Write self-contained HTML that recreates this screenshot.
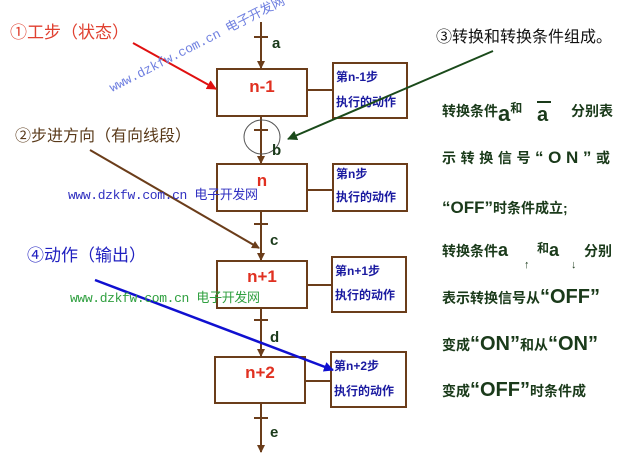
<!DOCTYPE html>
<html><head><meta charset="utf-8"><style>
body{margin:0;background:#fff;width:640px;height:461px;overflow:hidden}
svg text{font-family:"Liberation Sans","Noto Sans CJK SC",sans-serif}
svg text.wm{font-family:"Liberation Mono","Noto Sans CJK SC",monospace}
</style></head><body>
<svg width="640" height="461" viewBox="0 0 640 461" xmlns="http://www.w3.org/2000/svg">
<defs>
<marker id="ab" markerWidth="8" markerHeight="8" refX="7" refY="4" orient="auto" markerUnits="userSpaceOnUse"><path d="M0,0 L8,4 L0,8z" fill="#6b3d1a"/></marker>
<marker id="ar" markerWidth="10" markerHeight="10" refX="9" refY="5" orient="auto" markerUnits="userSpaceOnUse"><path d="M0,0 L10,5 L0,10z" fill="#e01010"/></marker>
<marker id="ag" markerWidth="10" markerHeight="10" refX="9" refY="5" orient="auto" markerUnits="userSpaceOnUse"><path d="M0,0 L10,5 L0,10z" fill="#1a4a1a"/></marker>
<marker id="abl" markerWidth="10" markerHeight="10" refX="9" refY="5" orient="auto" markerUnits="userSpaceOnUse"><path d="M0,0 L10,5 L0,10z" fill="#1010d0"/></marker>
</defs>
<g stroke="#6b3d1a" stroke-width="2" fill="none">
<line x1="261" y1="22" x2="261" y2="68" marker-end="url(#ab)"/>
<line x1="261" y1="116" x2="261" y2="163" marker-end="url(#ab)"/>
<line x1="261" y1="211" x2="261" y2="260" marker-end="url(#ab)"/>
<line x1="261" y1="308" x2="261" y2="356" marker-end="url(#ab)"/>
<line x1="261" y1="403" x2="261" y2="452" marker-end="url(#ab)"/>
<line x1="254" y1="37" x2="268" y2="37"/>
<line x1="254" y1="130" x2="268" y2="130"/>
<line x1="254" y1="224" x2="268" y2="224"/>
<line x1="254" y1="320" x2="268" y2="320"/>
<line x1="254" y1="418" x2="268" y2="418"/>
<rect x="217" y="69" width="90" height="47"/>
<rect x="217" y="164" width="90" height="47"/>
<rect x="217" y="261" width="90" height="47"/>
<rect x="215" y="357" width="90" height="46"/>
<rect x="333" y="63" width="74" height="55"/>
<rect x="333" y="164" width="74" height="47"/>
<rect x="332" y="257" width="74" height="55"/>
<rect x="331" y="352" width="75" height="55"/>
<line x1="307" y1="90" x2="333" y2="90"/>
<line x1="307" y1="190" x2="333" y2="190"/>
<line x1="307" y1="285" x2="332" y2="285"/>
<line x1="305" y1="381" x2="331" y2="381"/>
</g>
<ellipse cx="262" cy="137" rx="18" ry="17" fill="none" stroke="#555" stroke-width="1"/>
<g font-weight="bold" fill="#1a3a1a" font-size="15">
<text x="272" y="48">a</text><text x="272" y="155">b</text><text x="270" y="245">c</text><text x="270" y="342">d</text><text x="270" y="437">e</text>
</g>
<g font-weight="bold" fill="#e03020" font-size="17" text-anchor="middle">
<text x="262" y="92">n-1</text><text x="262" y="186">n</text><text x="262" y="282">n+1</text><text x="260" y="378">n+2</text>
</g>
<g font-weight="bold" fill="#1a1aa0" font-size="12">
<text x="336" y="81">第n-1步</text><text x="336" y="106">执行的动作</text>
<text x="336" y="178">第n步</text><text x="336" y="201">执行的动作</text>
<text x="335" y="275">第n+1步</text><text x="335" y="299">执行的动作</text>
<text x="334" y="370">第n+2步</text><text x="334" y="395">执行的动作</text>
</g>
<line x1="133" y1="43" x2="216" y2="89" stroke="#e01010" stroke-width="2" marker-end="url(#ar)"/>
<line x1="493" y1="51" x2="288" y2="139" stroke="#1a4a1a" stroke-width="2" marker-end="url(#ag)"/>
<line x1="90" y1="150" x2="259" y2="248" stroke="#6b3d1a" stroke-width="2" marker-end="url(#ab)"/>
<line x1="95" y1="280" x2="333" y2="370" stroke="#1010d0" stroke-width="2.5" marker-end="url(#abl)"/>
<text x="10" y="38" font-size="17" fill="#e04030">①工步（状态）</text>
<text x="15" y="141" font-size="16" fill="#5a3a1a">②步进方向（有向线段）</text>
<text x="27" y="261" font-size="17" fill="#2020c0">④动作（输出）</text>
<text x="436" y="42" font-size="16" fill="#111">③转换和转换条件组成。</text>
<text class="wm" x="112" y="92" font-size="13" fill="#7080e0" transform="rotate(-27 112 92)" textLength="195">www.dzkfw.com.cn 电子开发网</text>
<text class="wm" x="68" y="199" font-size="13" fill="#3030c0" textLength="190">www.dzkfw.com.cn 电子开发网</text>
<text class="wm" x="70" y="302" font-size="13" fill="#30a040" textLength="190">www.dzkfw.com.cn 电子开发网</text>
<g font-weight="bold" fill="#1a3a1a" font-size="14">
<text x="442" y="116">转换条件<tspan font-size="22" dy="5">a</tspan><tspan dy="-9" font-size="12">和</tspan><tspan x="537" dy="9" font-size="20">a</tspan><tspan x="571" dy="-5">分别表</tspan></text>
<line x1="537" y1="102" x2="551" y2="102" stroke="#1a3a1a" stroke-width="2"/>
<text x="442" y="163" textLength="168" lengthAdjust="spacing">示转换信号<tspan font-size="17">“ON”</tspan>或</text>
<text x="442" y="213"><tspan font-size="17">“OFF”</tspan>时条件成立;</text>
<text x="442" y="256">转换条件<tspan font-size="18">a</tspan><tspan x="524" dy="12" font-size="11">↑</tspan><tspan x="537" dy="-16" font-size="12">和</tspan><tspan font-size="18" dy="4">a</tspan><tspan x="571" dy="12" font-size="11">↓</tspan><tspan x="584" dy="-12">分别</tspan></text>
<text x="442" y="303">表示转换信号从<tspan font-size="20">“OFF”</tspan></text>
<text x="442" y="350">变成<tspan font-size="20">“ON”</tspan>和从<tspan font-size="20">“ON”</tspan></text>
<text x="442" y="396">变成<tspan font-size="20">“OFF”</tspan>时条件成</text>
</g>
</svg>
</body></html>
